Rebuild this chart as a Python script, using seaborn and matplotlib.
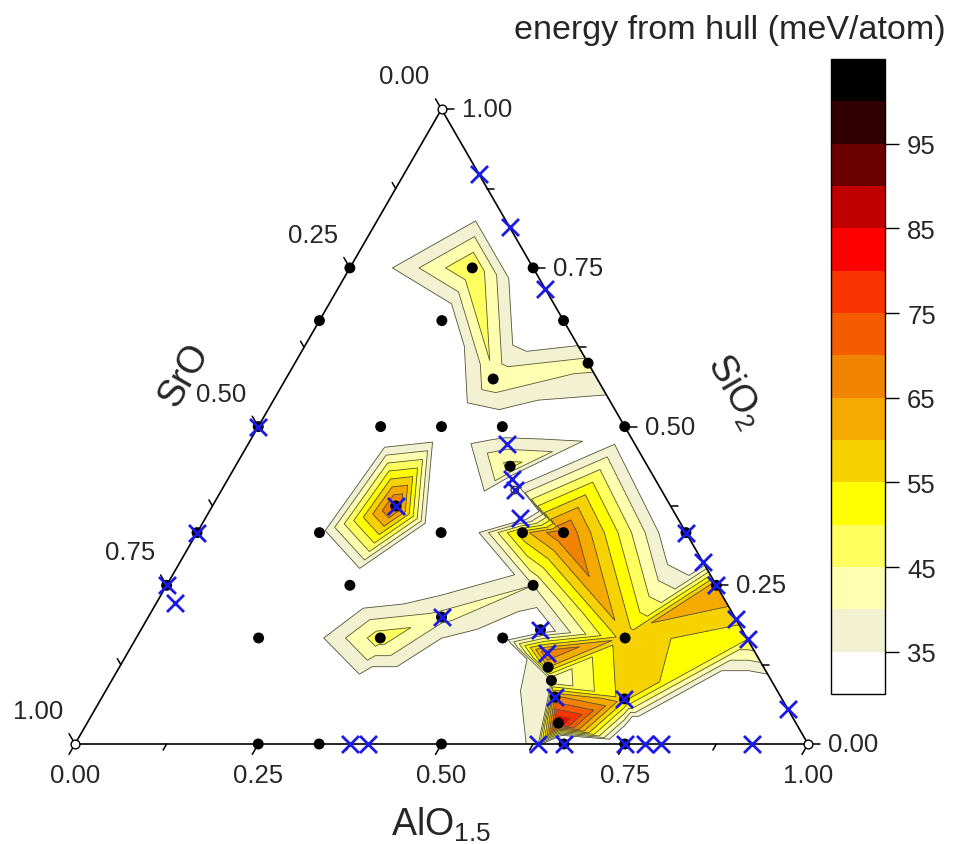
import numpy as np
import matplotlib
matplotlib.use("Agg")
import matplotlib.pyplot as plt
import matplotlib.tri as mtri
import seaborn as sns
import pandas as pd

sns.set_theme(style="white")
plt.rcParams['font.family'] = ['Liberation Sans', 'DejaVu Sans']
plt.rcParams['mathtext.default'] = 'regular'

# ---------------- data: fractions of AlO1.5 and SiO2 (SrO = 1 - Al - Si) ----------------
# end members
corner_al = [0.0, 1.0, 0.0]
corner_si = [0.0, 0.0, 1.0]
corner_e = [0, 0, 0]

# computed compositions only (black dots), energy above hull in meV/atom
dot_al = [0.167, 0.0, 0.25, 0.0, 0.167, 0.333, 0.283, 0.4,
          0.167, 0.25, 0.333, 0.5, 0.375,
          0.167, 0.333, 0.444, 0.5,
          0.25, 0.5, 0.167, 0.333, 0.5, 0.667,
          0.585, 0.6, 0.643,
          0.25, 0.333, 0.5]
dot_si = [0.75, 0.75, 0.75, 0.667, 0.667, 0.667, 0.575, 0.6,
          0.5, 0.5, 0.5, 0.5, 0.4375,
          0.333, 0.333, 0.333, 0.333,
          0.25, 0.25, 0.167, 0.167, 0.167, 0.167,
          0.121, 0.1, 0.033,
          0.0, 0.0, 0.0]
dot_e = [50, 27, 20, 15, 28, 25, 44, 42,
         22, 26, 30, 28, 47,
         32, 15, 58, 70,
         25, 40, 20, 48, 30, 58,
         60, 40, 85,
         0, 10, 0]

# known phases that were also computed (cross on a dot)
both_al = [0.0, 0.0, 0.0, 0.25, 0.4, 0.545, 0.618, 0.714, 0.667, 0.75, 0.667, 0.75]
both_si = [0.5, 0.333, 0.25, 0.375, 0.2, 0.18, 0.074, 0.071, 0.333, 0.25, 0.0, 0.0]
both_e = [0, 0, 0, 72, 42, 30, 66, 57, 25, 65, 0, 20]

# known phases only (blue crosses)
known_al = [0.102, 0.186, 0.283, 0.713, 0.803, 0.835, 0.945,
            0.025, 0.353, 0.388, 0.4, 0.429, 0.572,
            0.375, 0.4, 0.632, 0.778, 0.8, 0.923]
known_si = [0.898, 0.814, 0.717, 0.287, 0.197, 0.165, 0.055,
            0.222, 0.472, 0.417, 0.4, 0.356, 0.143,
            0.0, 0.0, 0.0, 0.0, 0.0, 0.0]
known_e = [20, 20, 20, 30, 57, 50, 20,
           0, 38, 30, 0, 30, 70,
           0, 0, 40, 0, 0, 0]
ring_al = [0.4]
ring_si = [0.4]

levels = [30, 35, 40, 45, 50, 55, 60, 65, 70, 75, 80, 85, 90, 95, 100, 105]
level_colors = ['#FFFFFF', '#F2F2D2', '#FFFFB0', '#FFFF60', '#FFFF00', '#F5D200',
                '#F5AA00', '#F08400', '#F55C00', '#FA3300', '#FF0000', '#C00000',
                '#6B0000', '#300000', '#000000']
cbar_ticks = [35, 45, 55, 65, 75, 85, 95]
axis_ticks = [0.0, 0.25, 0.5, 0.75, 1.0]
axis_labels = ['0.00', '0.25', '0.50', '0.75', '1.00']

S3 = np.sqrt(3) / 2


def cart(al, si):
    al = np.asarray(al, float)
    si = np.asarray(si, float)
    return al + si / 2, si * S3


PX = 733.0  # pixels per data unit
fig = plt.figure(figsize=(9.55, 8.45), dpi=100)
ax = fig.add_axes([0, 0, 1, 1])

all_al = corner_al + dot_al + both_al + known_al
all_si = corner_si + dot_si + both_si + known_si
all_e = corner_e + dot_e + both_e + known_e
cx, cy = cart(all_al, all_si)
z = np.asarray(all_e, float)


def _cross(p1, p2, p3, p4):
    def orient(a, b, c):
        return (b[0] - a[0]) * (c[1] - a[1]) - (b[1] - a[1]) * (c[0] - a[0])
    return (orient(p1, p2, p3) * orient(p1, p2, p4) < 0 and
            orient(p3, p4, p1) * orient(p3, p4, p2) < 0)


def ensure_edge(tris, i, j):
    """flip the Delaunay edge that blocks a direct link between points i and j"""
    P = lambda k: (cx[k], cy[k])
    for t in tris:
        if i in t and j not in t:
            a, b = [v for v in t if v != i]
            if _cross(P(i), P(j), P(a), P(b)):
                idx = [k for k, s in enumerate(tris) if a in s and b in s]
                if len(idx) == 2:
                    c = [v for v in tris[idx[0]] if v not in (a, b)][0]
                    d = [v for v in tris[idx[1]] if v not in (a, b)][0]
                    tris[idx[0]] = [a, c, d]
                    tris[idx[1]] = [b, c, d]
                return


base = mtri.Triangulation(cx, cy)
tris = [list(t) for t in base.triangles]
n0 = len(corner_al)
ensure_edge(tris, n0 + 0, n0 + 6)   # link the two silica-rich pockets
tri = mtri.Triangulation(cx, cy, triangles=np.array(tris))

cf = ax.tricontourf(tri, z, levels=levels, colors=level_colors, zorder=1)
ax.tricontour(tri, z, levels=levels[1:-1], colors='#55553f', linewidths=0.6, zorder=2)

# triangle frame
tx, ty = cart([0, 1, 0, 0], [0, 0, 1, 0])
ax.plot(tx, ty, color='black', lw=1.2, zorder=3)

# ticks (along the iso-lines, pointing outwards)
minor = np.arange(0.125, 1.0, 0.25)
L_maj, L_min = 12 / PX, 7 / PX


def draw_ticks(pts, d, length):
    for (x0, y0) in pts:
        ax.plot([x0, x0 + d[0] * length], [y0, y0 + d[1] * length],
                color='black', lw=1.1, zorder=3)


db = (-0.5, -S3)   # bottom axis (AlO1.5)
dr = (1.0, 0.0)    # right axis (SiO2)
dl = (-0.5, S3)    # left axis (SrO)
for vals, L in ((axis_ticks, L_maj), (minor, L_min)):
    vals = np.asarray(vals)
    draw_ticks(zip(*cart(vals, np.zeros_like(vals))), db, L)
    draw_ticks(zip(*cart(1 - vals, vals)), dr, L)
    draw_ticks(zip(*cart(np.zeros_like(vals), 1 - vals)), dl, L)

fs_tick = 18.5
for t, lab in zip(axis_ticks, axis_labels):
    bx, by = cart(t, 0)
    ax.annotate(lab, (bx, by), xytext=(0, -31), textcoords='offset pixels',
                ha='center', va='center', fontsize=fs_tick)
    rx, ry = cart(1 - t, t)
    ax.annotate(lab, (rx, ry), xytext=(20, 0), textcoords='offset pixels',
                ha='left', va='center', fontsize=fs_tick)
    lx, ly = cart(0, 1 - t)
    ax.annotate(lab, (lx, ly), xytext=(-37, 33), textcoords='offset pixels',
                ha='center', va='center', fontsize=fs_tick)

# axis titles
p = cart(0, 0.58)
ax.annotate('SrO', (p[0], p[1]), xytext=(-103, 2), textcoords='offset pixels',
            ha='center', va='center', rotation=60, fontsize=27)
p = cart(0.42, 0.58)
ax.annotate('SiO$_2$', (p[0], p[1]), xytext=(140, -14), textcoords='offset pixels',
            ha='center', va='center', rotation=-60, fontsize=27)
p = cart(0.5, 0)
ax.annotate('AlO$_{1.5}$', (p[0], p[1]), xytext=(0, -80), textcoords='offset pixels',
            ha='center', va='center', fontsize=27)

# vertices
vx, vy = cart(corner_al, corner_si)
ax.scatter(vx, vy, s=40, facecolor='white', edgecolor='black', linewidth=1.0, zorder=7)

# points
px_, py_ = cart(dot_al + both_al, dot_si + both_si)
df_calc = pd.DataFrame({'x': px_, 'y': py_})
sns.scatterplot(data=df_calc, x='x', y='y', color='black', s=62, edgecolor='none',
                ax=ax, zorder=5, legend=False)
kx, ky = cart(known_al + both_al, known_si + both_si)
df_known = pd.DataFrame({'x': kx, 'y': ky})
sns.scatterplot(data=df_known, x='x', y='y', marker='x', color='#1a1ae6', s=150,
                linewidth=2.0, ax=ax, zorder=6, legend=False)
rx_, ry_ = cart(ring_al, ring_si)
ax.scatter(rx_, ry_, s=30, facecolor='none', edgecolor='#333333', linewidth=0.9, zorder=6)
ax.set_xlim(-75 / PX, 880 / PX)
ax.set_ylim(-100 / PX, 745 / PX)
ax.set_xlabel('')
ax.set_ylabel('')
ax.axis('off')

# colorbar
cax = fig.add_axes([831 / 955, 150 / 845, 54 / 955, 635 / 845])
cb = fig.colorbar(cf, cax=cax, ticks=cbar_ticks)
cb.outline.set_linewidth(1.0)
cb.outline.set_edgecolor('black')
cax.tick_params(axis='y', length=10, width=1.0, labelsize=18.5, right=True,
                color='black', pad=6)
fig.text(730 / 955, 1 - 30 / 845, 'energy from hull (meV/atom)',
         ha='center', va='center', fontsize=24.5)

fig.savefig('out.png', dpi=100)
